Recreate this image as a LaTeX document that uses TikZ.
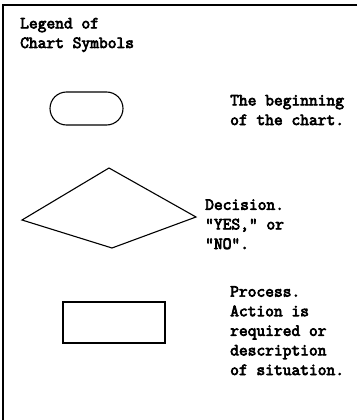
\documentclass[tikz,border=0pt]{standalone}
\usepackage{fontspec}
\newfontfamily\typer{Latin Modern Mono}[Ligatures=TeXOff,FakeBold=4]
\begin{document}
\begin{tikzpicture}[x=1pt,y=-1pt,
  shape line/.style={draw=black, line width=1.1pt},
  label text/.style={anchor=base west, inner sep=0pt, font=\fontsize{17}{19.6}\typer, align=left}]
\useasboundingbox (0,0) rectangle (357,420);
% frame (top and left)
\coordinate (tl) at (3,5);
\coordinate (tr) at (357,5);
\coordinate (bl) at (3,420);
\draw[line width=1.2pt] (tr) -- (tl) -- (bl);
% title (anchor = baseline of last line)
\node[label text] (title) at (20,48) {Legend of\\Chart Symbols};
% terminator
\draw[shape line, rounded corners=16.5pt] (50,92) rectangle (123,125);
\node[label text] (t1) at (230,125) {The beginning\\of the chart.};
% decision
\draw[shape line] (22,220) -- (109,168) -- (196,217) -- (112,248) -- cycle;
\node[label text] (t2) at (205,249) {Decision.\\"YES," or\\"NO".};
% process
\draw[shape line] (63,302) rectangle (165,343);
\node[label text] (t3) at (230,375) {Process.\\Action is\\required or\\description\\of situation.};
\end{tikzpicture}
\end{document}
